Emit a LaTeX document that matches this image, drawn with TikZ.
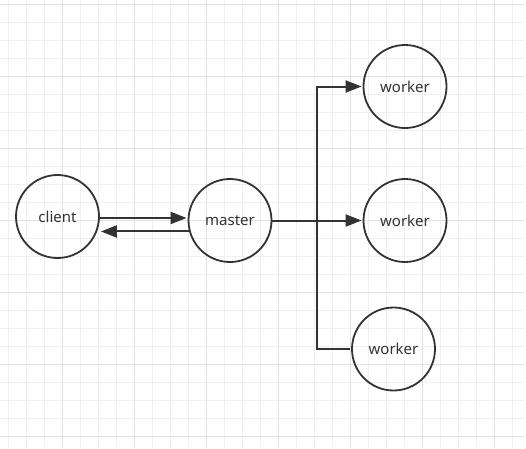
\documentclass[tikz,border=0pt]{standalone}
\usepackage{fontspec}
\setmainfont{Noto Sans}
\usetikzlibrary{arrows.meta}

\definecolor{inkgray}{HTML}{333333}
\definecolor{gridminor}{HTML}{F0F0F0}
\definecolor{gridmajor}{HTML}{E2E2E2}

\begin{document}
\begin{tikzpicture}[x=1pt,y=-1pt,>={Triangle[length=16pt,width=12pt]},shorten >=1pt,
    proc/.style={circle,draw=inkgray,line width=1.8pt,minimum size=83pt,inner sep=0pt,
        text=inkgray,font=\fontsize{15}{18}\selectfont},
    link/.style={draw=inkgray,line width=2pt}]
    \useasboundingbox[fill=white] (0,0) rectangle (526,448);

    % background grid
    \foreach \i in {0,...,28} \draw[gridminor,line width=1pt] ({8.7+18*\i},0) -- ({8.7+18*\i},448);
    \foreach \i in {0,...,24} \draw[gridminor,line width=1pt] (0,{4+18*\i}) -- (526,{4+18*\i});
    \foreach \i in {0,...,6} \draw[gridmajor,line width=1pt] ({62.7+72*\i},0) -- ({62.7+72*\i},448);
    \foreach \i in {0,...,6} \draw[gridmajor,line width=1pt] (0,{4+72*\i}) -- (526,{4+72*\i});

    \node[proc] (client) at (57.5,216.5) {client};
    \node[proc] (master) at (230,220.5) {master};
    \node[proc] (w1) at (405,86.5) {worker};
    \node[proc] (w2) at (405,220.5) {worker};
    \node[proc] (w3) at (393.5,349) {worker};
    \coordinate (split) at (316.5,220.5);

    \draw[link,->] (client.-2) -- (client.-2 -| master.west);
    \draw[link,->] (master.195) -- (master.195 -| client.east);
    \draw[link,->] (master) -- (w2);
    \draw[link,->] (split) |- (w1);
    \draw[link] (split) |- (w3);
\end{tikzpicture}
\end{document}
